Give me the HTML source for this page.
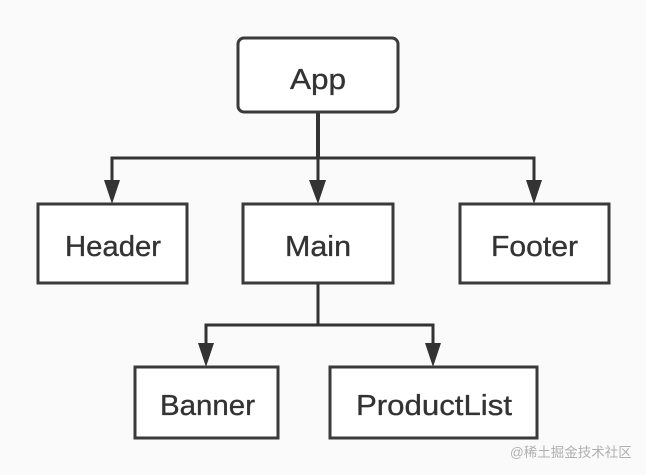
<!DOCTYPE html>
<html>
<head>
<meta charset="utf-8">
<style>
html,body{margin:0;padding:0;background:#fafafa;}
svg{display:block;}
text{font-family:"Liberation Sans","Noto Sans CJK SC",sans-serif;}
</style>
</head>
<body>
<svg width="646" height="475" viewBox="0 0 646 475" xmlns="http://www.w3.org/2000/svg">
<rect width="646" height="475" fill="#fafafa"/>
<g fill="none" stroke="#333" stroke-width="3">
  <path d="M318 112V158" stroke-width="4"/>
  <path d="M318 158V182"/>
  <path d="M112 182V158H534V182"/>
  <path d="M318 284V325"/>
  <path d="M206 346V325H433V346"/>
</g>
<g fill="#333">
  <path d="M104 180H120L112 204Z"/>
  <path d="M309 180H326L318 204Z"/>
  <path d="M526 180H542L534 204Z"/>
  <path d="M198 343H214L206 367Z"/>
  <path d="M425 343H441L433 367Z"/>
</g>
<g fill="#fff" stroke="#3a3a3a" stroke-width="3">
  <rect x="238" y="38" width="160" height="74" rx="6"/>
  <rect x="38" y="204" width="149" height="79"/>
  <rect x="243" y="204" width="150" height="79"/>
  <rect x="460" y="204" width="149" height="79"/>
  <rect x="135" y="367" width="143" height="71"/>
  <rect x="330" y="367" width="207" height="71"/>
</g>
<g fill="#333" stroke="#333" stroke-width="0.35" font-size="29">
  <text x="290" y="89" textLength="56" lengthAdjust="spacingAndGlyphs">App</text>
  <text x="65" y="256" textLength="96" lengthAdjust="spacingAndGlyphs">Header</text>
  <text x="285" y="256" textLength="66" lengthAdjust="spacingAndGlyphs">Main</text>
  <text x="491" y="256" textLength="87" lengthAdjust="spacingAndGlyphs">Footer</text>
  <text x="160" y="415" textLength="95" lengthAdjust="spacingAndGlyphs">Banner</text>
  <text x="356" y="415" textLength="156" lengthAdjust="spacingAndGlyphs">ProductList</text>
</g>
<text x="510" y="457" font-size="13.5" fill="#b0b0b0">@稀土掘金技术社区</text>
</svg>
</body>
</html>
